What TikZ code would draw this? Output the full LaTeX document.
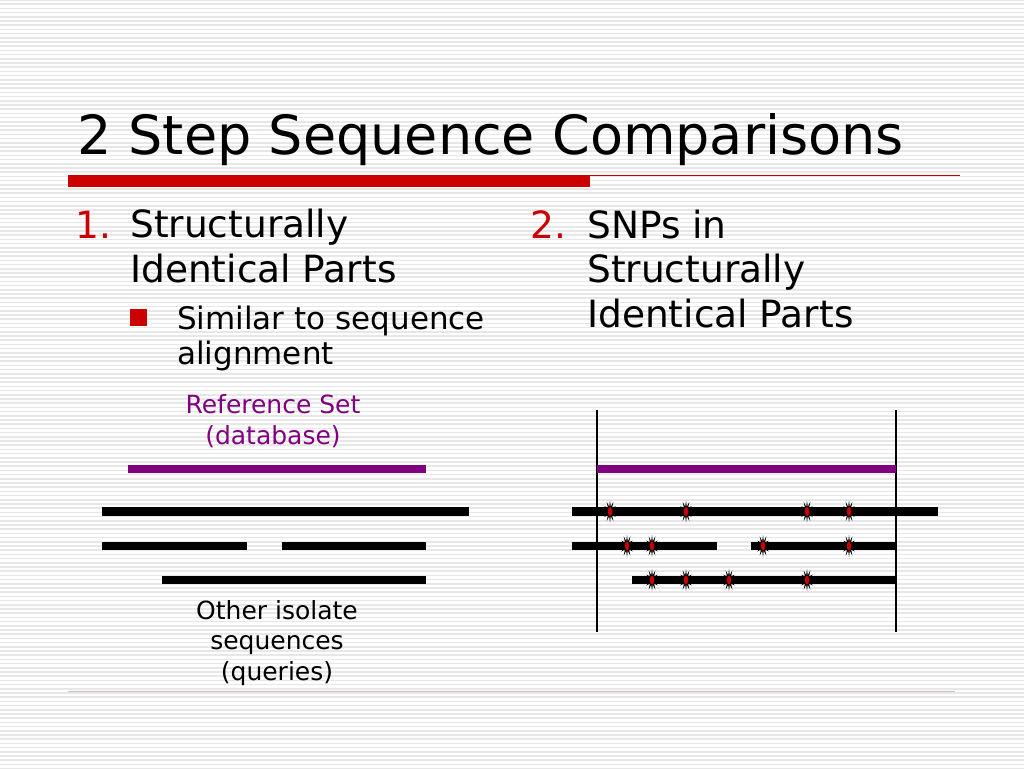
\documentclass[tikz,border=0pt]{standalone}
\usepackage{fontspec}
\setmainfont{DejaVu Sans}
\usetikzlibrary{shapes.geometric}
\definecolor{red1}{RGB}{204,0,0}
\definecolor{purple1}{RGB}{128,0,128}
\definecolor{stripe1}{RGB}{231,231,231}
\definecolor{rule1}{RGB}{214,190,190}

\begin{document}
\begin{tikzpicture}[x=1pt,y=-1pt,
    title/.style={anchor=base west, inner sep=0pt, font=\fontsize{54}{66}\selectfont},
    level1/.style={anchor=base west, inner sep=0pt, align=left, font=\fontsize{37.5}{44.5}\selectfont},
    num/.style={level1, text=red1},
    level2/.style={anchor=base west, inner sep=0pt, align=left, font=\fontsize{31}{35}\selectfont},
    caption/.style={anchor=base, inner sep=0pt, align=center, font=\fontsize{25}{30.5}\selectfont},
    refbar/.style={draw=purple1, line width=8pt},
    seqbar/.style={draw=black, line width=8.5pt},
    bound/.style={draw=black, line width=1.2pt},
    snp/.style={star, star points=12, star point ratio=2.2, fill=black, minimum size=22pt, inner sep=0pt, xscale=0.6},
    snpcore/.style={ellipse, fill=red1, draw=black, line width=0.4pt, minimum width=5pt, minimum height=10pt, inner sep=0pt}
]
    \useasboundingbox (0,0) rectangle (1024,768);
    \fill[white] (0,0) rectangle (1024,768);
    % background stripes
    \foreach \i in {0,...,183}
        \draw[stripe1, line width=1.5pt] (0,\i*4.2) -- (1024,\i*4.2);

    % title and rules
    \node[title] (title) at (77,154) {2 Step Sequence Comparisons};
    \fill[red1] (68,174.5) rectangle (590,187);
    \draw[red1, line width=1.2pt] (590,175.5) -- (960,175.5);
    \draw[rule1, line width=1pt] (68,691) -- (955,691);

    % left column
    \node[num] (num1) at (75,238) {1.};
    \node[level1] (step1) at (130,282) {Structurally\\Identical Parts};
    \node[fill=red1, minimum size=17pt, inner sep=0pt] (bullet) at (138,317) {};
    \node[level2] (sub1) at (177,364) {Similar to sequence\\alignment};

    % right column
    \node[num] (num2) at (530,238) {2.};
    \node[level1] (step2) at (587,327) {SNPs in\\Structurally\\Identical Parts};

    % step 1: alignment against reference
    \node[caption, text=purple1] (refset) at (273,444) {Reference Set\\(database)};
    \draw[refbar] (128,469) -- (426,469);
    \draw[seqbar] (102,511.5) -- (469,511.5);
    \draw[seqbar] (102,546) -- (247,546);
    \draw[seqbar] (282,546) -- (426,546);
    \draw[seqbar] (162,580) -- (426,580);
    \node[caption] (queries) at (277,680) {Other isolate\\sequences\\(queries)};

    % step 2: SNPs inside the identical region
    \draw[bound] (597,410) -- (597,632);
    \draw[bound] (896,410) -- (896,632);
    \draw[refbar] (597,469) -- (896,469);
    \draw[seqbar] (572,511.5) -- (938,511.5);
    \draw[seqbar] (572,546) -- (717,546);
    \draw[seqbar] (751,546) -- (896,546);
    \draw[seqbar] (632,580) -- (896,580);

    \foreach \r/\y/\xs in {1/511.5/{610,686,807,849}, 2/546/{627,652,763,849}, 3/580/{652,686,729,807}}
        \foreach \x in \xs {
            \node[snp] (snp-\r-\x) at (\x,\y) {};
            \node[snpcore] (core-\r-\x) at (\x,\y) {};
        }
\end{tikzpicture}
\end{document}
